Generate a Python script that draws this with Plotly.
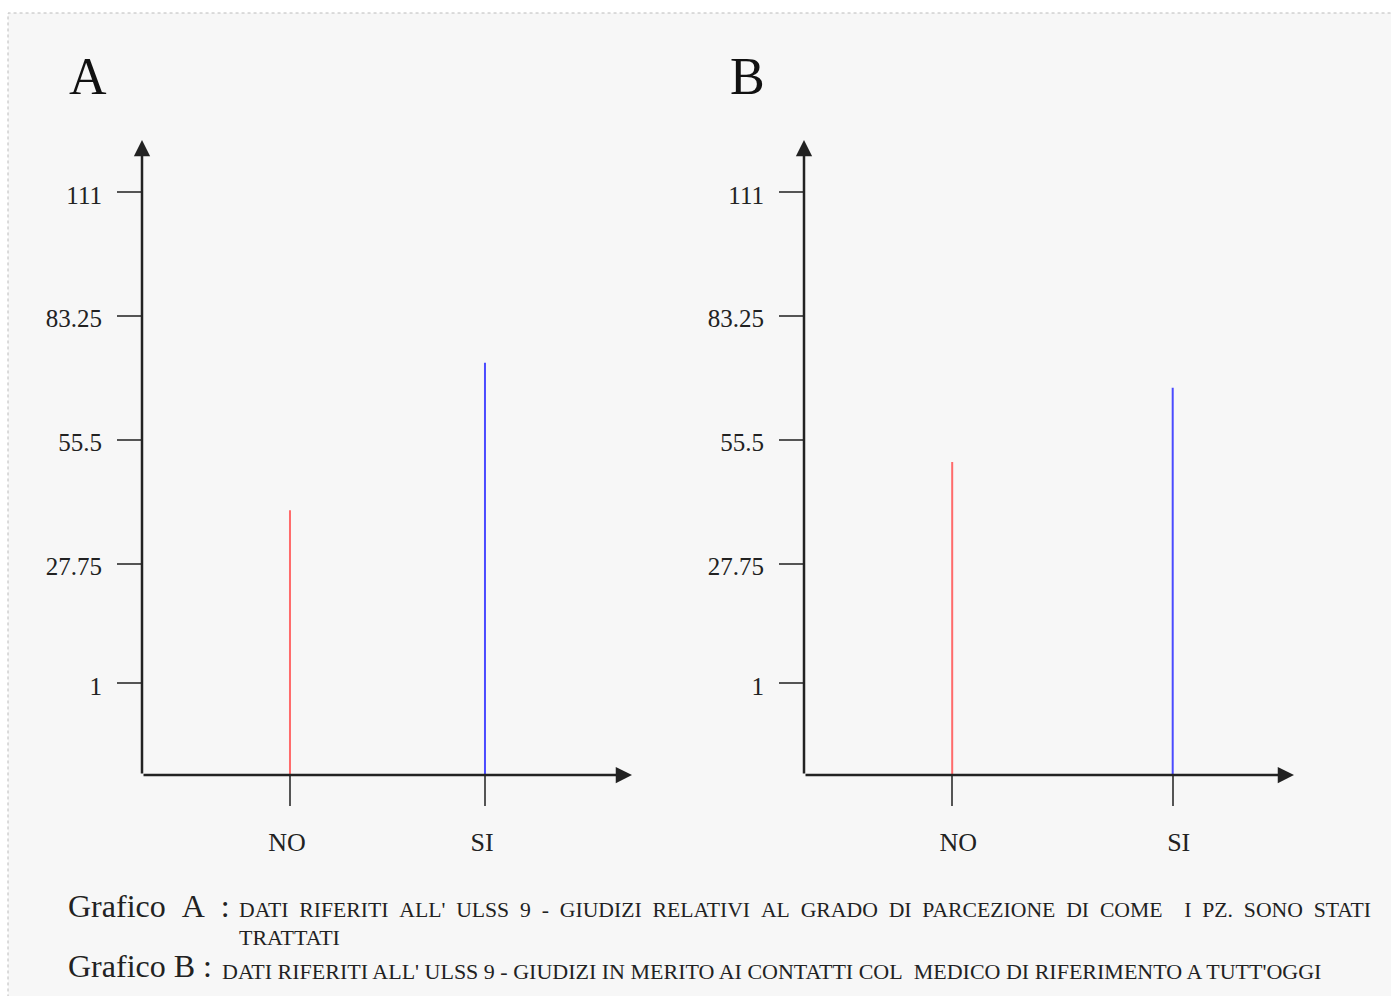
import plotly.graph_objects as go

# ---- data ----
categories = ["NO", "SI"]
values_a = [39.7, 72.7]
values_b = [50.5, 67.1]
tick_values = [1, 27.75, 55.5, 83.25, 111]
tick_labels = ["1", "27.75", "55.5", "83.25", "111"]
bar_colors = ["#ff6b6b", "#4b4bff"]

W, H = 1391, 996
SERIF = "Liberation Serif, Times New Roman, serif"
y_range = [-19.6, 122.6]
xr_a = [-0.759, 1.754]
xr_b = [-0.672, 1.55]

fig = go.Figure()

def add_panel(values, xaxis, yaxis):
    for cat, val, col in zip(categories, values, bar_colors):
        fig.add_trace(go.Scatter(
            x=[cat, cat], y=[y_range[0], val], mode="lines",
            line=dict(color=col, width=2), showlegend=False,
            hoverinfo="skip", xaxis=xaxis, yaxis=yaxis, cliponaxis=False))

add_panel(values_a, "x", "y")
add_panel(values_b, "x2", "y2")

def px_x(p):
    return p / W

def px_y(p):
    return 1 - p / H

ydom = [px_y(775), px_y(140)]
xaxis_common = dict(type="category", categoryorder="array", categoryarray=categories,
                    showgrid=False, zeroline=False, showline=False,
                    ticks="outside", ticklen=30, tickwidth=1.5, tickcolor="#555",
                    ticklabelstandoff=14,
                    tickfont=dict(family=SERIF, size=26, color="#222"))
yaxis_common = dict(range=y_range, showgrid=False, zeroline=False, showline=False,
                    tickmode="array", tickvals=tick_values, ticktext=tick_labels,
                    ticks="outside", ticklen=24, tickwidth=1.5, tickcolor="#555",
                    ticklabelstandoff=10, ticklabelshift=3,
                    tickfont=dict(family=SERIF, size=25, color="#222"))

fig.update_layout(
    width=W, height=H, margin=dict(l=0, r=0, t=0, b=0),
    paper_bgcolor="white", plot_bgcolor="rgba(0,0,0,0)",
    xaxis=dict(domain=[px_x(142), px_x(632)], range=xr_a, anchor="y",
               ticklabelshift=-3, **xaxis_common),
    yaxis=dict(domain=ydom, anchor="x", **yaxis_common),
    xaxis2=dict(domain=[px_x(804), px_x(1294)], range=xr_b, anchor="y2",
                ticklabelshift=6, **xaxis_common),
    yaxis2=dict(domain=ydom, anchor="x2", **yaxis_common),
)

# page background with dotted border
fig.add_shape(type="rect", xref="paper", yref="paper",
              x0=px_x(8), x1=1.02, y0=-0.02, y1=px_y(13),
              fillcolor="#f7f7f7", line=dict(color="#bbbbbb", width=1, dash="dot"),
              layer="below")

# axes with arrowheads
for xr, xref, yref in [(xr_a, "x", "y"), (xr_b, "x2", "y2")]:
    fig.add_annotation(x=xr[0], y=y_range[1], ax=xr[0], ay=y_range[0],
                       xref=xref, yref=yref, axref=xref, ayref=yref, text="",
                       showarrow=True, arrowhead=2, arrowsize=1.3, arrowwidth=2.5,
                       arrowcolor="#222", standoff=0)
    fig.add_annotation(x=xr[1], y=y_range[0], ax=xr[0], ay=y_range[0],
                       xref=xref, yref=yref, axref=xref, ayref=yref, text="",
                       showarrow=True, arrowhead=2, arrowsize=1.3, arrowwidth=2.5,
                       arrowcolor="#222", standoff=0)

# panel letters
for letter, xp in [("A", 88), ("B", 748)]:
    fig.add_annotation(x=px_x(xp), y=px_y(77), xref="paper", yref="paper",
                       text=letter, showarrow=False, xanchor="center", yanchor="middle",
                       font=dict(family=SERIF, size=52, color="#111"))

# captions
cap_big = dict(family=SERIF, size=32, color="#222")
cap_small = dict(family=SERIF, size=22, color="#222")
fig.add_annotation(x=px_x(66), y=px_y(906), xref="paper", yref="paper",
                   text="Grafico&nbsp;&nbsp;A&nbsp;&nbsp;:", showarrow=False,
                   xanchor="left", yanchor="middle", font=cap_big)
fig.add_annotation(x=px_x(237), y=px_y(910), xref="paper", yref="paper",
                   text="DATI&nbsp;&nbsp;RIFERITI&nbsp;&nbsp;ALL'&nbsp;&nbsp;ULSS&nbsp;&nbsp;9&nbsp;&nbsp;-&nbsp;&nbsp;GIUDIZI&nbsp;&nbsp;RELATIVI&nbsp;&nbsp;AL&nbsp;&nbsp;GRADO&nbsp;&nbsp;DI&nbsp;&nbsp;PARCEZIONE&nbsp;&nbsp;DI&nbsp;&nbsp;COME&nbsp;&nbsp;&nbsp;&nbsp;I&nbsp;&nbsp;PZ.&nbsp;&nbsp;SONO&nbsp;&nbsp;STATI",
                   showarrow=False, xanchor="left", yanchor="middle",
                   font=dict(family=SERIF, size=21.7, color="#222"))
fig.add_annotation(x=px_x(237), y=px_y(937), xref="paper", yref="paper",
                   text="TRATTATI", showarrow=False,
                   xanchor="left", yanchor="middle", font=cap_small)
fig.add_annotation(x=px_x(66), y=px_y(966), xref="paper", yref="paper",
                   text="Grafico B :", showarrow=False,
                   xanchor="left", yanchor="middle", font=cap_big)
fig.add_annotation(x=px_x(220), y=px_y(971), xref="paper", yref="paper",
                   text="DATI RIFERITI ALL' ULSS 9 - GIUDIZI IN MERITO AI CONTATTI COL&nbsp;&nbsp;MEDICO DI RIFERIMENTO A TUTT'OGGI",
                   showarrow=False, xanchor="left", yanchor="middle", font=cap_small)

fig.write_html("out.html", config={"displayModeBar": False},
               post_script="document.body.style.margin='0px';document.body.style.overflow='hidden';")
